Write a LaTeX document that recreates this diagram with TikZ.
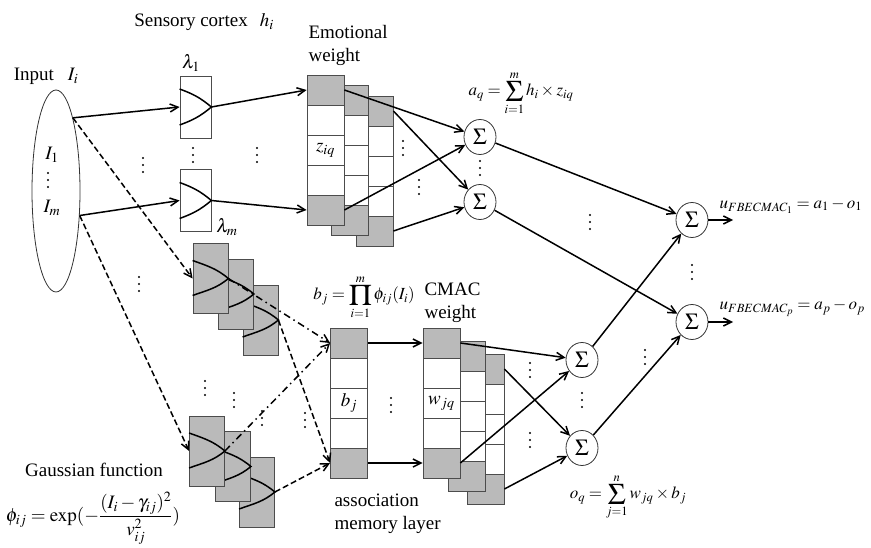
\documentclass[tikz,border=0pt]{standalone}
\usepackage{amsmath}
\usepackage{mathptmx}
\usepackage{fontspec}
\setmainfont{Liberation Serif}
\usepackage{tikz}
\usetikzlibrary{positioning}
\usetikzlibrary{arrows.meta}
\usetikzlibrary{shapes.geometric}

\newcommand{\bigsumop}{\mathop{\vcenter{\hbox{\fontsize{30}{30}\selectfont$\Sigma$}}}\limits}
\newcommand{\bigprodop}{\mathop{\vcenter{\hbox{\fontsize{30}{30}\selectfont$\Pi$}}}\limits}

\begin{document}
\begin{tikzpicture}[x=1pt, y=-1pt,
    font=\fontsize{19}{23}\selectfont,
    cell/.style={draw=black!70, line width=0.8pt, fill=white, minimum width=37pt, minimum height=30pt, inner sep=0pt},
    gbox/.style={draw=black!70, line width=0.8pt, fill=black!27, minimum width=35pt, minimum height=70pt, inner sep=0pt},
    sbox/.style={draw=black!70, line width=0.8pt, fill=white, minimum width=31pt, minimum height=62pt, inner sep=0pt},
    sumnode/.style={draw=black!80, line width=0.8pt, ellipse, minimum width=32pt, minimum height=35pt, inner sep=0pt, font=\fontsize{23}{23}\selectfont},
    eqn/.style={font=\fontsize{17}{20}\selectfont},
    link/.style={line width=1.5pt, -{Straight Barb[length=8pt,width=8pt]}},
    dashlink/.style={link, dash pattern=on 6pt off 3pt},
    dotlink/.style={link, dash pattern=on 7pt off 4pt on 1.5pt off 4pt},
    bellline/.style={line width=1.5pt}]
  \useasboundingbox (0,0) rectangle (871,548);

  % input layer
  \node[draw=black!80, line width=0.8pt, ellipse, minimum width=48pt, minimum height=202pt] (inp) at (56,191) {};
  \node (inlbl) at (46,76) {Input\hspace{14pt}$I_i$};
  \node (i1) at (52,155) {$I_1$};
  \node (im) at (52,208) {$I_m$};

  % sensory cortex
  \node (sclbl) at (204,22) {Sensory cortex\hspace{12pt}$h_i$};
  \node[sbox] (s1) at (195.5,107) {};
  \node[sbox] (s2) at (195.5,200.5) {};
  \foreach \s in {s1,s2} {
    \draw[bellline] ([yshift=18pt]\s.west) to[out=-20,in=140] (\s.east) to[out=-140,in=20] ([yshift=-18pt]\s.west);
  }
  \node (lam1) at (191,63) {$\lambda_1$};
  \node (lamm) at (227,227) {$\lambda_m$};

  % emotional weight (back block first)
  \foreach \bx/\by/\k in {356/96/3, 331/85/2, 307/75/1} {
    \foreach \c/\cf in {1/black!27, 2/white, 3/white, 4/white, 5/black!27} {
      \node[cell, fill=\cf] (ew\k-\c) at ({\bx+18.5}, {\by+15+30*(\c-1)}) {};
    }
  }
  \node (ziq) at (ew1-3) {$z_{iq}$};
  \node[anchor=west, align=left] (ewlbl) at (305,45) {Emotional\\weight};
  \node[eqn] (aq) at (521,93) {$a_q = \bigsumop_{i=1}^{m} h_i \times z_{iq}$};

  % gaussian functions
  \foreach \g/\gx/\gy in {gC1/260.5/320, gB1/236/294, gA1/210.5/278.5,
                          gC2/257/492, gB2/233/466.5, gA2/207/451} {
    \node[gbox] (\g) at (\gx,\gy) {};
    \draw[bellline] ([yshift=18pt]\g.west) to[out=-20,in=140] (\g.east) to[out=-140,in=20] ([yshift=-17pt]\g.west);
  }
  \node (gslbl) at (94,470) {Gaussian function};
  \node (phi) at (93,518) {$\phi_{ij} = \exp(-\dfrac{(I_i-\gamma_{ij})^2}{v_{ij}^2})$};

  % association memory layer
  \foreach \c/\cf in {1/black!27, 2/white, 3/white, 4/white, 5/black!27} {
    \node[cell, fill=\cf] (am-\c) at (349, {343+30*(\c-1)}) {};
  }
  \node (bj) at (am-3) {$b_j$};
  \node[eqn] (bjeq) at (364,297) {$b_j = \bigprodop_{i=1}^{m}\phi_{ij}(I_i)$};
  \node[anchor=west, align=left] (amlbl) at (331,514) {association\\memory layer};

  % CMAC weight (back block first)
  \foreach \bx/\by/\k in {467/354/3, 448/341/2, 423/328/1} {
    \foreach \c/\cf in {1/black!27, 2/white, 3/white, 4/white, 5/black!27} {
      \node[cell, fill=\cf] (cw\k-\c) at ({\bx+18.5}, {\by+15+30*(\c-1)}) {};
    }
  }
  \node (wjq) at (cw1-3) {$w_{jq}$};
  \node[anchor=west, align=left] (cwlbl) at (421,303) {CMAC\\weight};
  \node[eqn] (oq) at (628,497) {$o_q = \bigsumop_{j=1}^{n} w_{jq} \times b_j$};

  % summing nodes
  \node[sumnode] (sa1) at (480,137) {$\Sigma$};
  \node[sumnode] (sa2) at (480,202) {$\Sigma$};
  \node[sumnode] (sb1) at (582,360) {$\Sigma$};
  \node[sumnode] (sb2) at (582,448) {$\Sigma$};
  \node[sumnode] (so1) at (692,220) {$\Sigma$};
  \node[sumnode] (so2) at (692,322) {$\Sigma$};
  \coordinate (out1) at (733,220);
  \coordinate (out2) at (733,322);
  \node[eqn, anchor=west] (u1) at (716,206) {$u_{FBECMAC_1} = a_1 - o_1$};
  \node[eqn, anchor=west] (u2) at (716,308) {$u_{FBECMAC_p} = a_p - o_p$};

  % connections
  \draw[link] (inp.77) -- (s1.west);
  \draw[link] (inp.-46) -- (s2.west);
  \draw[dashlink] (inp.77) -- (gA1.west);
  \draw[dashlink] (inp.-46) -- (gA2.west);
  \draw[link] (s1.east) -- (ew1-1.west);
  \draw[link] (s2.east) -- (ew1-5.west);
  \draw[link] (ew1-1.east) -- (sa1);
  \draw[link] (ew1-5.east) -- (sa1);
  \draw[link] (ew3-1.east) -- (sa2);
  \draw[link] (ew3-5.east) -- (sa2);
  \draw[dotlink] (gA1.east) -- (am-1.west);
  \draw[dashlink] (gC1.east) -- (am-5.west);
  \draw[dotlink] (gA2.east) -- (am-1.west);
  \draw[dashlink] (gC2.east) -- (am-5.west);
  \draw[link] (am-1.east) -- (cw1-1.west);
  \draw[link] (am-5.east) -- (cw1-5.west);
  \draw[link] (cw1-1.east) -- (sb1);
  \draw[link] (cw1-5.east) -- (sb1);
  \draw[link] (cw3-1.east) -- (sb2);
  \draw[link] (cw3-5.east) -- (sb2);
  \draw[link] (sa1) -- (so1);
  \draw[link] (sa2) -- (so2);
  \draw[link] (sb1) -- (so1);
  \draw[link] (sb2) -- (so2);
  \draw[link] (so1) -- (out1);
  \draw[link] (so2) -- (out2);

  % vertical dots
  \foreach \x/\y in {48/180, 143/165, 193/155, 257/155, 403/148, 419/187, 480/168,
                     139/284, 205/388, 234/400, 262/418, 305/420, 391/405,
                     530/370, 530/440, 582/400, 645/357, 590/222, 692/272} {
    \foreach \d in {-7,0,7} {
      \fill (\x,{\y+\d}) circle (1.2pt);
    }
  }
\end{tikzpicture}
\end{document}
